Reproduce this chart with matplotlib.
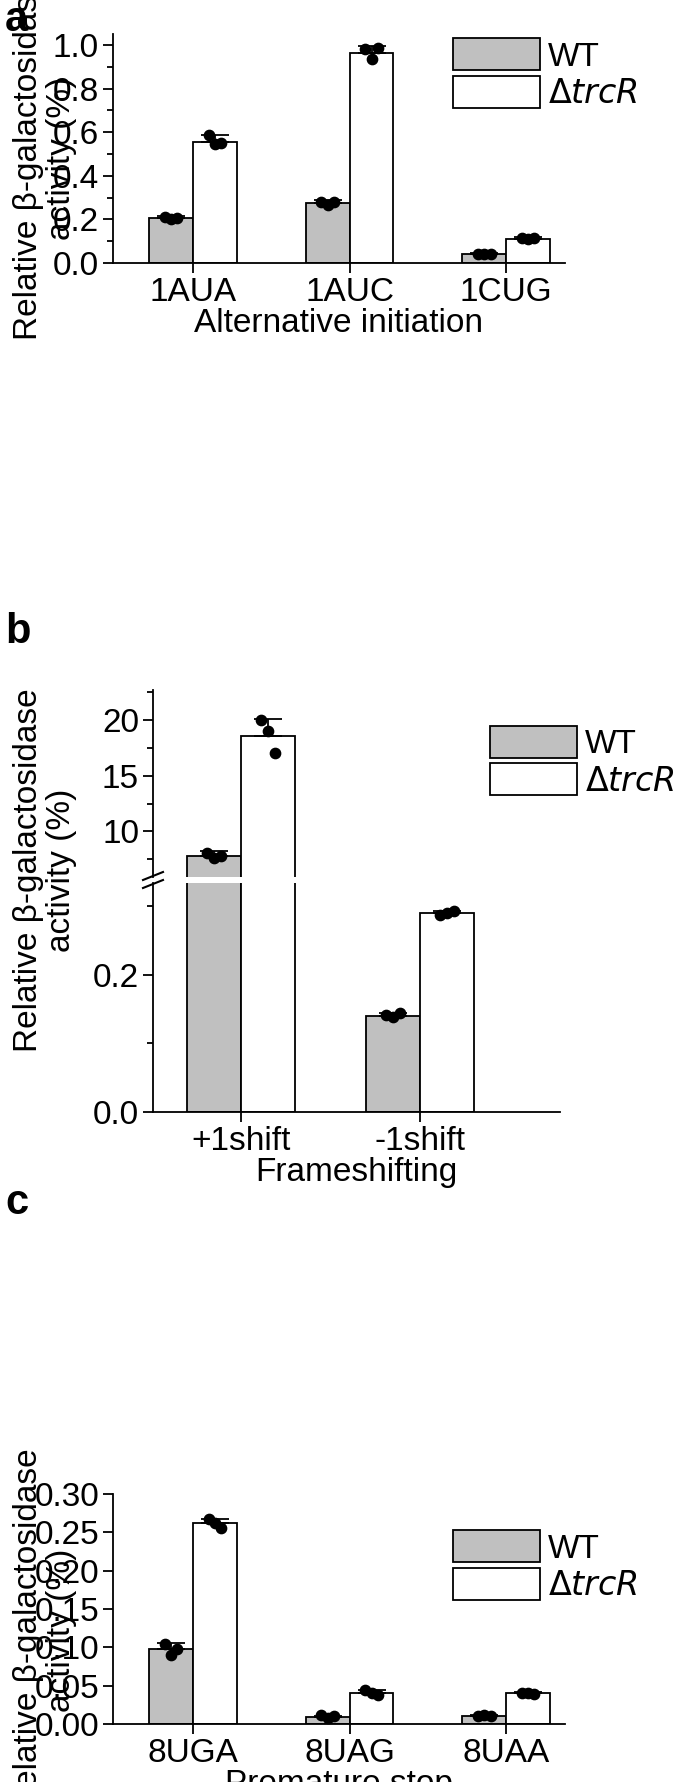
import matplotlib
matplotlib.use("Agg")
import matplotlib.pyplot as plt
from matplotlib.patches import Patch

plt.rcParams['font.family'] = ['Liberation Sans', 'DejaVu Sans']
plt.rcParams['font.size'] = 24

# Panel a
a_cats = ['1AUA', '1AUC', '1CUG']
a_wt = [0.205, 0.275, 0.040]
a_wt_err = [0.010, 0.015, 0.004]
a_wt_pts = [[0.21, 0.20, 0.205], [0.28, 0.265, 0.28], [0.04, 0.04, 0.04]]
a_ko = [0.555, 0.965, 0.112]
a_ko_err = [0.030, 0.030, 0.005]
a_ko_pts = [[0.585, 0.545, 0.55], [0.98, 0.935, 0.985], [0.115, 0.112, 0.115]]

# Panel b
b_cats = ['+1shift', '-1shift']
b_wt = [7.8, 0.140]
b_wt_err = [0.4, 0.004]
b_wt_pts = [[8.1, 7.6, 7.8], [0.142, 0.138, 0.144]]
b_ko = [18.6, 0.290]
b_ko_err = [1.5, 0.003]
b_ko_pts = [[20.0, 19.0, 17.0], [0.288, 0.290, 0.293]]

# Panel c
c_cats = ['8UGA', '8UAG', '8UAA']
c_wt = [0.098, 0.009, 0.011]
c_wt_err = [0.008, 0.002, 0.001]
c_wt_pts = [[0.105, 0.090, 0.098], [0.012, 0.008, 0.010], [0.011, 0.012, 0.011]]
c_ko = [0.262, 0.040, 0.040]
c_ko_err = [0.005, 0.004, 0.002]
c_ko_pts = [[0.267, 0.262, 0.256], [0.044, 0.040, 0.038], [0.041, 0.040, 0.039]]

W, H = 685, 1782
fig = plt.figure(figsize=(W/100, H/100), dpi=100)
GREY = '#c0c0c0'
JIT = [-0.04, 0.0, 0.04]
FS = 24
YL = 'Relative β-galactosidase\nactivity (%)'

def ax_at(l, t, r, b):
    return fig.add_axes([l/W, 1-b/H, (r-l)/W, (b-t)/H])

def draw(ax, wt, wte, wtp, ko, koe, kop, bw):
    n = len(wt)
    for i in range(n):
        for v, e, pts, off, col in [(wt[i], wte[i], wtp[i], -bw/2, GREY), (ko[i], koe[i], kop[i], bw/2, 'white')]:
            x = i + off
            ax.bar(x, v, width=bw, color=col, edgecolor='black', linewidth=1.3, zorder=2)
            ax.errorbar(x, v, yerr=[[0], [e]], color='black', capsize=10, elinewidth=1.3, capthick=1.3, zorder=3)
            ax.scatter([x + j for j in JIT], pts, s=55, color='black', zorder=4)

def style(ax):
    for s in ['top', 'right']:
        ax.spines[s].set_visible(False)
    for s in ['left', 'bottom']:
        ax.spines[s].set_linewidth(1.3)
    ax.tick_params(direction='out', length=7, width=1.3, labelsize=FS, pad=3)
    ax.tick_params(which='minor', direction='out', length=4, width=1.3)

def legend(ax, loc_xy):
    h = [Patch(facecolor=GREY, edgecolor='black', linewidth=1.3, label='WT'),
         Patch(facecolor='white', edgecolor='black', linewidth=1.3, label=r'$\Delta$$\it{trcR}$')]
    ax.legend(handles=h, loc='upper left', bbox_to_anchor=loc_xy, frameon=False, fontsize=FS,
              handlelength=2.6, handleheight=1.1, handletextpad=0.25, labelspacing=0.1, borderaxespad=0)

def ylabel(yc):
    fig.text(45/W, 1-yc/H, YL, rotation=90, ha='center', va='center', fontsize=FS, linespacing=1.1)

# ---- Panel a
ax = ax_at(113, 34, 565, 263)
draw(ax, a_wt, a_wt_err, a_wt_pts, a_ko, a_ko_err, a_ko_pts, 0.28)
ax.set_xlim(-0.51, 2.375); ax.set_ylim(0, 1.05)
ax.set_yticks([0, 0.2, 0.4, 0.6, 0.8, 1.0]); ax.set_yticks([0.1, 0.3, 0.5, 0.7, 0.9], minor=True)
ax.set_yticklabels(['0.0', '0.2', '0.4', '0.6', '0.8', '1.0'])
ax.set_xticks(range(3)); ax.set_xticklabels(a_cats)
ax.set_xlabel('Alternative initiation', fontsize=FS, labelpad=0)
style(ax)
legend(ax, ((440-113)/452, 1.04))
ylabel(158)
fig.text(5/W, 1-20/H, 'a', fontsize=30, fontweight='bold', va='center')

# ---- Panel b (broken axis)
axu = ax_at(153, 690, 560, 877)
axl = ax_at(153, 883, 560, 1112)
for a_ in (axu, axl):
    draw(a_, b_wt, b_wt_err, b_wt_pts, b_ko, b_ko_err, b_ko_pts, 0.3)
    a_.set_xlim(-0.49, 1.78)
    style(a_)
axu.set_ylim(5.9, 22.7); axl.set_ylim(0, 0.334)
axu.set_yticks([10, 15, 20]); axu.set_yticks([7.5, 12.5, 17.5, 22.5], minor=True)
axu.spines['bottom'].set_visible(False)
axu.tick_params(axis='x', bottom=False, labelbottom=False)
axl.set_yticks([0.0, 0.2]); axl.set_yticklabels(['0.0', '0.2'])
axl.set_yticks([0.1, 0.3], minor=True)
axl.set_xticks(range(2)); axl.set_xticklabels(b_cats)
axl.set_xlabel('Frameshifting', fontsize=FS, labelpad=0)
for dy in (-4, 4):
    fig.add_artist(plt.Line2D([143/W, 163/W], [1-(880+dy+4)/H, 1-(880+dy-4)/H], color='black', lw=1.5))
legend(axu, ((477-153)/407, 0.88))
ylabel(870)
fig.text(5/W, 1-632/H, 'b', fontsize=30, fontweight='bold', va='center')

# ---- Panel c
ax = ax_at(113, 1494, 565, 1724)
draw(ax, c_wt, c_wt_err, c_wt_pts, c_ko, c_ko_err, c_ko_pts, 0.28)
ax.set_xlim(-0.51, 2.375); ax.set_ylim(0, 0.30)
ax.set_yticks([0, 0.05, 0.10, 0.15, 0.20, 0.25, 0.30])
ax.set_yticklabels(['0.00', '0.05', '0.10', '0.15', '0.20', '0.25', '0.30'])
ax.set_xticks(range(3)); ax.set_xticklabels(c_cats)
ax.set_xlabel('Premature stop', fontsize=FS, labelpad=0)
style(ax)
legend(ax, ((440-113)/452, 0.90))
ylabel(1630)
fig.text(5/W, 1-1203/H, 'c', fontsize=30, fontweight='bold', va='center')

fig.savefig('out.png', dpi=100)
